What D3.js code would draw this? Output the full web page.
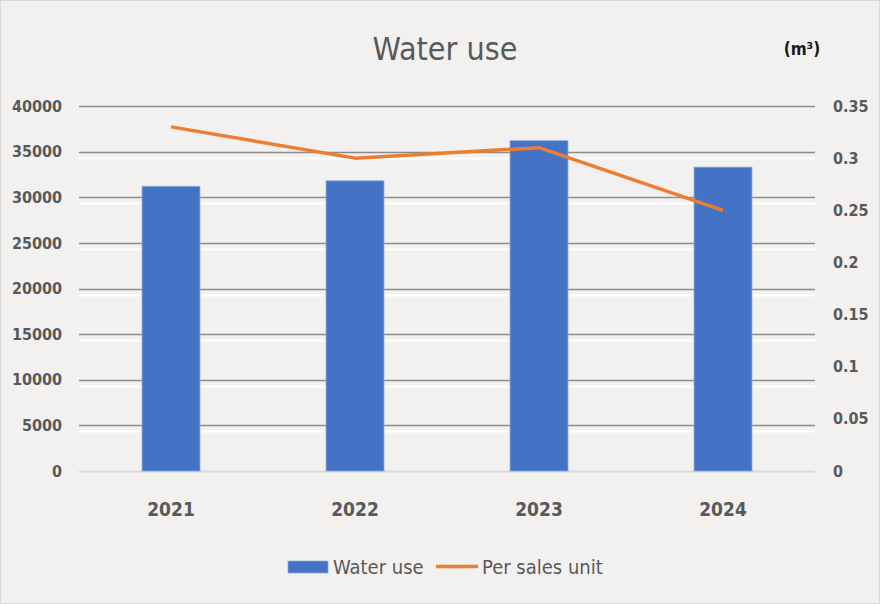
<!DOCTYPE html>
<html>
<head>
<meta charset="utf-8">
<script src="https://cdn.jsdelivr.net/npm/d3@7"></script>
<style>
  body { margin: 0; background: #fff; }
  svg text { font-family: "DejaVu Sans Condensed", "Liberation Sans Narrow", sans-serif; fill: #595959; }
</style>
</head>
<body>
<div id="chart"></div>
<script>
// Data
const years = ["2021", "2022", "2023", "2024"];
const waterUse = [31200, 31800, 36200, 33300];
const perSalesUnit = [0.33, 0.30, 0.31, 0.25];
const leftTicks = [0, 5000, 10000, 15000, 20000, 25000, 30000, 35000, 40000];
const rightTicks = [0, 0.05, 0.1, 0.15, 0.2, 0.25, 0.3, 0.35];

const W = 880, H = 604;
const margin = { top: 106, right: 65, bottom: 133, left: 79 };
const width = W - margin.left - margin.right;
const height = H - margin.top - margin.bottom;

const svg = d3.select("#chart")
  .append("svg")
  .attr("width", W)
  .attr("height", H);

// Background and border
svg.append("rect")
  .attr("x", 0.5).attr("y", 0.5)
  .attr("width", W - 1).attr("height", H - 1)
  .attr("fill", "#f2f1f0")
  .attr("stroke", "#d9d9d9");

const g = svg.append("g")
  .attr("transform", `translate(${margin.left},${margin.top})`);

// Scales
const x = d3.scaleBand()
  .domain(years)
  .range([0, width])
  .paddingInner(0.685)
  .paddingOuter(0.3425);

const xPoint = d => x(d) + x.bandwidth() / 2;

const yLeft = d3.scaleLinear()
  .domain([0, 40000])
  .range([height, 0]);

const yRight = d3.scaleLinear()
  .domain([0, 0.35])
  .range([height, 0]);

// Gridlines: grey line with white highlight below
const grid = g.append("g");
grid.selectAll(".hi")
  .data(leftTicks.filter(d => d > 0 && d < 40000))
  .enter()
  .append("line")
  .attr("x1", 0).attr("x2", width)
  .attr("y1", d => Math.round(yLeft(d)) + 6.5)
  .attr("y2", d => Math.round(yLeft(d)) + 6.5)
  .attr("stroke", "#ffffff")
  .attr("stroke-width", 2);

grid.selectAll(".gl")
  .data(leftTicks)
  .enter()
  .append("line")
  .attr("x1", 0).attr("x2", width)
  .attr("y1", d => Math.round(yLeft(d)) + 0.5)
  .attr("y2", d => Math.round(yLeft(d)) + 0.5)
  .attr("stroke", d => d === 0 ? "#d9d9d9" : "#8c8c8c")
  .attr("stroke-width", d => d === 0 ? 2 : 1.5);

// Bars
g.selectAll(".bar")
  .data(years)
  .enter()
  .append("rect")
  .attr("class", "bar")
  .attr("x", d => x(d))
  .attr("y", (d, i) => yLeft(waterUse[i]))
  .attr("width", x.bandwidth())
  .attr("height", (d, i) => height - yLeft(waterUse[i]))
  .attr("fill", "#4472c4")
  .attr("stroke", "#8faadc")
  .attr("stroke-width", 0.8);

// Line
const line = d3.line()
  .x(d => xPoint(d[0]))
  .y(d => yRight(d[1]));

g.append("path")
  .datum(years.map((d, i) => [d, perSalesUnit[i]]))
  .attr("d", line)
  .attr("fill", "none")
  .attr("stroke", "#ed7d31")
  .attr("stroke-width", 3.5)
  .attr("stroke-linejoin", "round");

// Axes
const leftAxis = g.append("g")
  .call(d3.axisLeft(yLeft).tickValues(leftTicks).tickSize(0).tickPadding(17).tickFormat(d3.format("d")));
leftAxis.select(".domain").remove();
leftAxis.selectAll("text")
  .style("font-size", "16px")
  .style("font-weight", "bold")
  .attr("fill", "#595959");

const rightAxis = g.append("g")
  .attr("transform", `translate(${width},0)`)
  .call(d3.axisRight(yRight).tickValues(rightTicks).tickSize(0).tickPadding(18).tickFormat(d => d3.format("")(+d.toFixed(2))));
rightAxis.select(".domain").remove();
rightAxis.selectAll("text")
  .style("font-size", "16px")
  .style("font-weight", "bold")
  .attr("fill", "#595959");

const bottomAxis = g.append("g")
  .attr("transform", `translate(0,${height})`)
  .call(d3.axisBottom(x).tickSize(0).tickPadding(32));
bottomAxis.select(".domain").remove();
bottomAxis.selectAll("text")
  .style("font-size", "19px")
  .style("font-weight", "bold")
  .attr("fill", "#595959");

// Title
svg.append("text")
  .attr("x", 445)
  .attr("y", 60)
  .attr("text-anchor", "middle")
  .style("font-size", "32px")
  .text("Water use");

// Unit label
svg.append("text")
  .attr("x", 802)
  .attr("y", 55)
  .attr("text-anchor", "middle")
  .style("font-size", "17px")
  .style("font-weight", "bold")
  .style("fill", "#1a1a1a")
  .text("(m³)");

// Legend
const legend = svg.append("g");
legend.append("rect")
  .attr("x", 288).attr("y", 561)
  .attr("width", 40).attr("height", 12)
  .attr("fill", "#4472c4")
  .attr("stroke", "#8faadc")
  .attr("stroke-width", 0.8);
legend.append("text")
  .attr("x", 333).attr("y", 574)
  .style("font-size", "20px")
  .text("Water use");
legend.append("line")
  .attr("x1", 436).attr("x2", 478)
  .attr("y1", 566.5).attr("y2", 566.5)
  .attr("stroke", "#ed7d31")
  .attr("stroke-width", 3.5);
legend.append("text")
  .attr("x", 482).attr("y", 574)
  .style("font-size", "20px")
  .text("Per sales unit");
</script>
</body>
</html>
